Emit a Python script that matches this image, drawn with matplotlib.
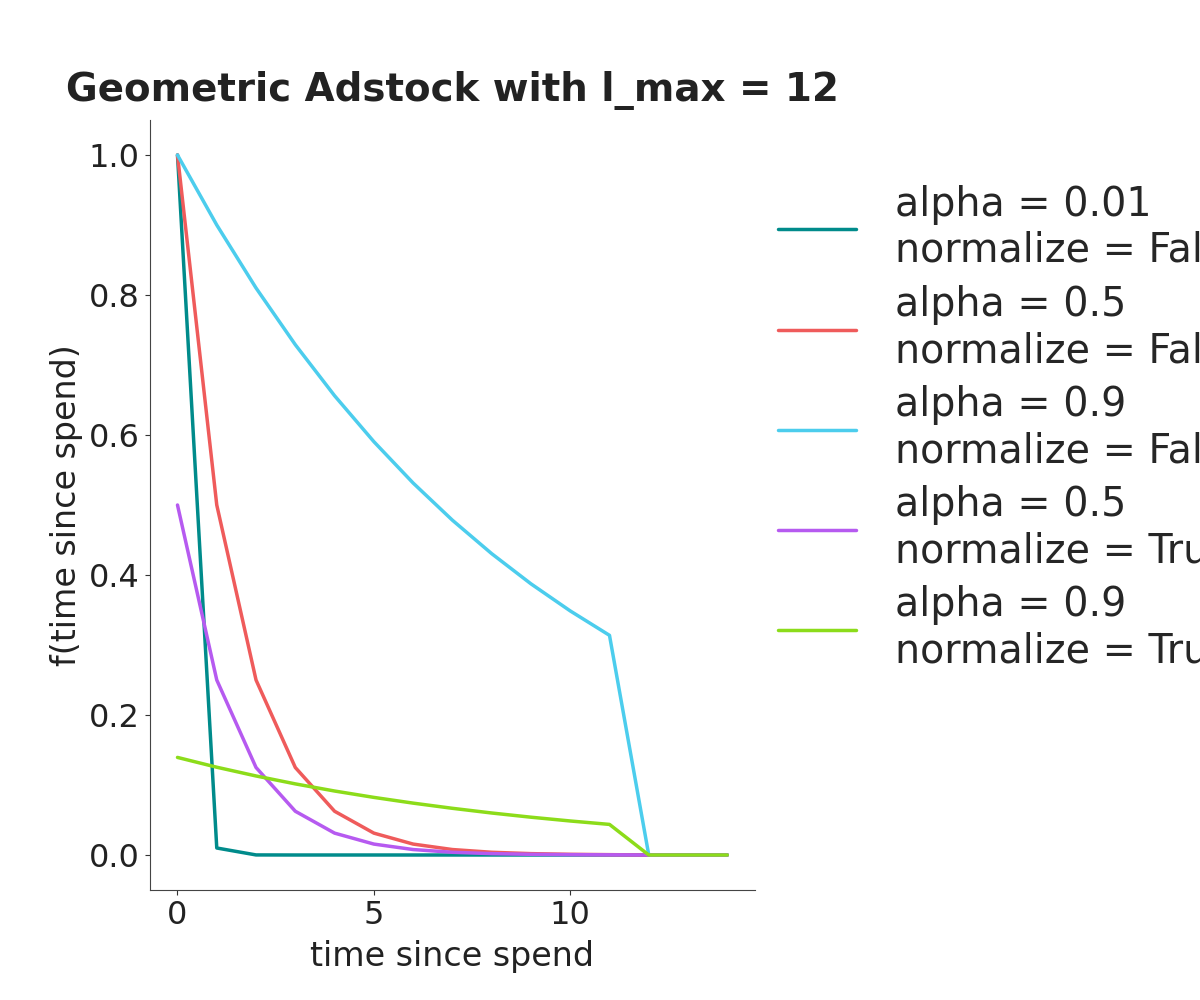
import matplotlib
matplotlib.use("Agg")
import matplotlib.pyplot as plt
import seaborn as sns

sns.set_style("ticks")
plt.rcParams['font.family'] = ['DejaVu Sans']

t = list(range(15))
a001 = [1.0, 0.01, 0.0001, 0, 0, 0, 0, 0, 0, 0, 0, 0, 0, 0, 0]
a05 = [1.0, 0.5, 0.25, 0.125, 0.0625, 0.03125, 0.0156, 0.0078, 0.0039, 0.00195, 0.00098, 0.00049, 0, 0, 0]
a09 = [1.0, 0.9, 0.81, 0.729, 0.6561, 0.5905, 0.5314, 0.4783, 0.4305, 0.3874, 0.3487, 0.3138, 0, 0, 0]
a05n = [0.5, 0.25, 0.125, 0.0625, 0.03125, 0.0156, 0.0078, 0.0039, 0.00195, 0.00098, 0.00049, 0.00024, 0, 0, 0]
a09n = [0.1394, 0.1254, 0.1129, 0.1016, 0.0914, 0.0823, 0.0741, 0.0667, 0.0600, 0.0540, 0.0486, 0.0437, 0, 0, 0]

series = [
    (a001, "alpha = 0.01\nnormalize = False", "#008B8B"),
    (a05, "alpha = 0.5\nnormalize = False", "#EF5B5B"),
    (a09, "alpha = 0.9\nnormalize = False", "#4CCDED"),
    (a05n, "alpha = 0.5\nnormalize = True", "#B65AF0"),
    (a09n, "alpha = 0.9\nnormalize = True", "#8CDC1A"),
]

fig = plt.figure(figsize=(12, 10), dpi=100)
ax = fig.add_axes([0.125, 0.11, 0.504, 0.77])
for ys, lab, col in series:
    ax.plot(t, ys, color=col, lw=2.5, label=lab)

ax.set_ylim(-0.05, 1.05)
ax.set_xticks([0, 5, 10])
ax.tick_params(labelsize=23, colors="#333333", labelcolor="#222222", pad=4)
for s in ["left", "bottom"]:
    ax.spines[s].set_color("#444444")
sns.despine(ax=ax)
ax.set_xlabel("time since spend", fontsize=18 * 285 / 214, color="#222222", labelpad=6)
ax.set_ylabel("f(time since spend)", fontsize=18 * 285 / 214, color="#222222")
ax.set_title("Geometric Adstock with l_max = 12", fontsize=20 * 775 / 555,
             fontweight="bold", color="#222222", pad=14)
ax.legend(loc="center left", bbox_to_anchor=(0.98, 0.6), fontsize=20 * 257 / 180, frameon=False,
          handlelength=1.95, handletextpad=1.0, labelspacing=0.35)

fig.savefig("out.png", dpi=100)
